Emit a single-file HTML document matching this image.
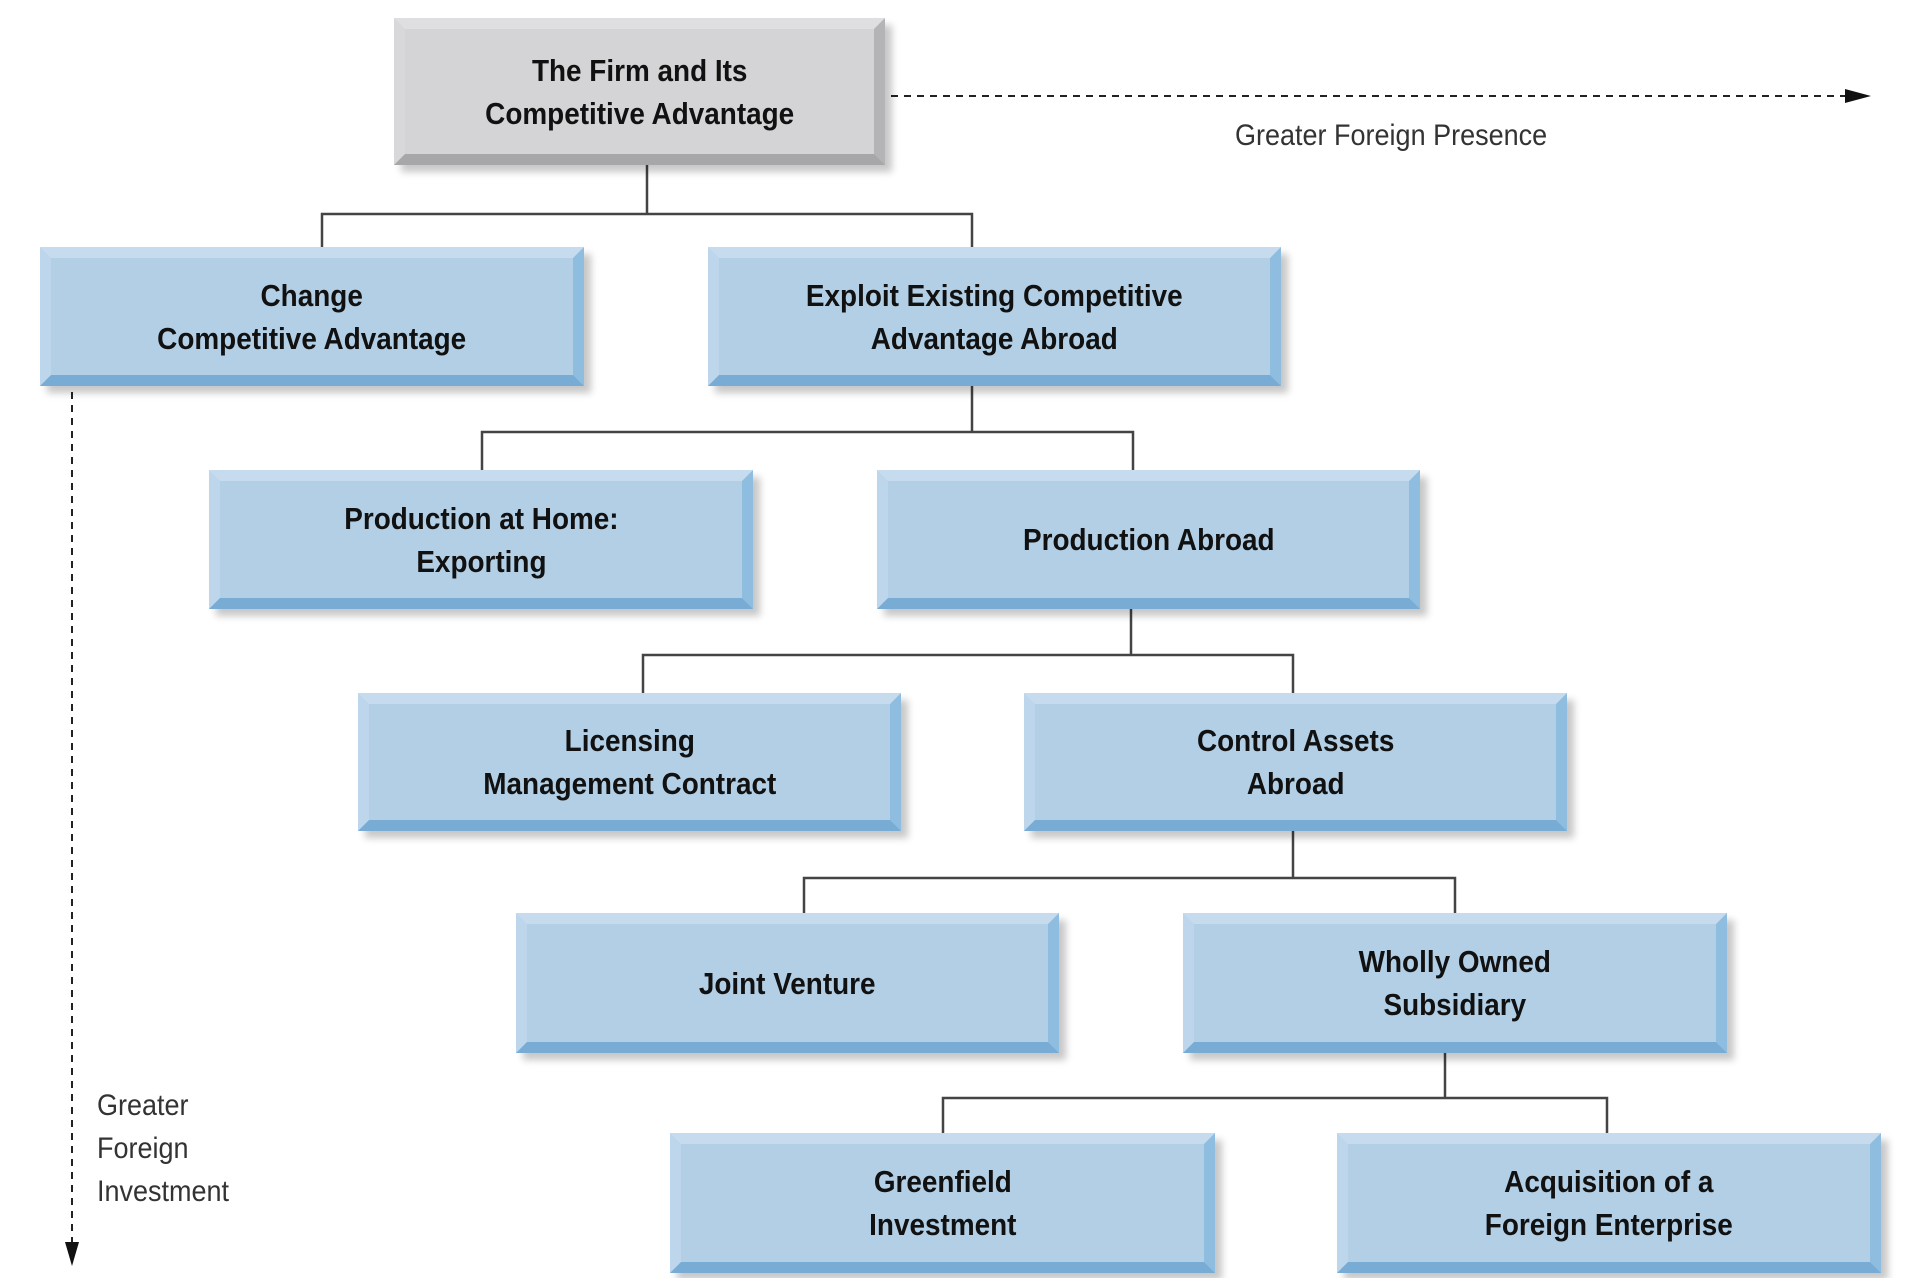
<!DOCTYPE html>
<html><head><meta charset="utf-8"><style>
body{margin:0;width:1910px;height:1278px;background:#fff;position:relative;overflow:hidden;font-family:"Liberation Sans Narrow","Liberation Sans",sans-serif;}
.b{position:absolute;box-sizing:border-box;border:11px solid;border-color:#c6dcee #8fbde0 #79acd5 #bdd6eb;background:#b2cfe6;display:flex;align-items:center;justify-content:center;text-align:center;font-weight:bold;font-size:31px;line-height:43px;color:#111;box-shadow:7px 7px 7px rgba(0,0,0,.22);}
.b span{display:inline-block;transform:scaleX(0.9);white-space:nowrap}
.g{border-color:#dfdee1 #b4b3b6 #a7a6a9 #d8d7da;background:#d4d3d6;}
.t{position:absolute;font-size:30px;color:#333;line-height:43px;}
.t span{display:inline-block;transform:scaleX(0.9);transform-origin:left}
svg{position:absolute;left:0;top:0}
</style></head><body>
<svg width="1910" height="1278">
<g stroke="#444" stroke-width="2.5" fill="none">
<path d="M647 165V214M322 247V214H972V247"/>
<path d="M972 386V432M482 470V432H1133V470"/>
<path d="M1131 609V655M643 693V655H1293V693"/>
<path d="M1293 831V878M804 913V878H1455V913"/>
<path d="M1445 1053V1098M943 1133V1098H1607V1133"/>
</g>
<g stroke="#222" stroke-width="2" stroke-dasharray="7,6" fill="none">
<path d="M891 96H1850"/>
<path d="M72 392V1245"/>
</g>
<polygon points="1871,96 1845,89 1845,103" fill="#111"/>
<polygon points="72,1266 65,1242 79,1242" fill="#111"/>
</svg>
<div class="b g" style="left:394px;top:18px;width:491px;height:147px"><span>The Firm and Its<br>Competitive Advantage</span></div>
<div class="t" style="left:1235px;top:114px"><span>Greater Foreign Presence</span></div>
<div class="b" style="left:40px;top:247px;width:544px;height:139px"><span>Change<br>Competitive Advantage</span></div>
<div class="b" style="left:708px;top:247px;width:573px;height:139px"><span>Exploit Existing Competitive<br>Advantage Abroad</span></div>
<div class="b" style="left:209px;top:470px;width:544px;height:139px"><span>Production at Home:<br>Exporting</span></div>
<div class="b" style="left:877px;top:470px;width:543px;height:139px"><span>Production Abroad</span></div>
<div class="b" style="left:358px;top:693px;width:543px;height:138px"><span>Licensing<br>Management Contract</span></div>
<div class="b" style="left:1024px;top:693px;width:543px;height:138px"><span>Control Assets<br>Abroad</span></div>
<div class="b" style="left:516px;top:913px;width:543px;height:140px"><span>Joint Venture</span></div>
<div class="b" style="left:1183px;top:913px;width:544px;height:140px"><span>Wholly Owned<br>Subsidiary</span></div>
<div class="b" style="left:670px;top:1133px;width:545px;height:140px"><span>Greenfield<br>Investment</span></div>
<div class="b" style="left:1337px;top:1133px;width:544px;height:140px"><span>Acquisition of a<br>Foreign Enterprise</span></div>
<div class="t" style="left:97px;top:1084px"><span>Greater<br>Foreign<br>Investment</span></div>
</body></html>
